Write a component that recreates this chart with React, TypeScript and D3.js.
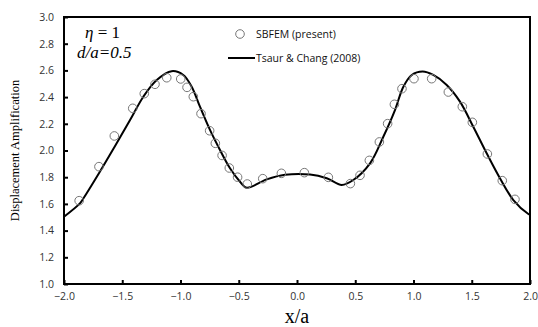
import { useEffect, useRef } from 'react';
import * as d3 from 'd3';

// SBFEM (present) - open circles
const sbfemX = [
  -1.87, -1.7, -1.568, -1.41, -1.311, -1.219, -1.118, -0.998, -0.944, -0.89, -0.824, -0.75, -0.701,
  -0.643, -0.581, -0.51, -0.427, -0.294, -0.134, 0.063, 0.269, 0.458, 0.541, 0.621, 0.707, 0.778,
  0.836, 0.901, 1.004, 1.156, 1.299, 1.419, 1.505, 1.634, 1.762, 1.871,
];
const sbfemY = [
  1.624, 1.879, 2.109, 2.316, 2.426, 2.496, 2.545, 2.536, 2.473, 2.403, 2.276, 2.148, 2.054, 1.963,
  1.869, 1.8, 1.749, 1.789, 1.829, 1.834, 1.799, 1.752, 1.814, 1.926, 2.064, 2.201, 2.346, 2.463,
  2.538, 2.538, 2.438, 2.328, 2.211, 1.974, 1.774, 1.634,
];

// Tsaur & Chang (2008) - solid line
const tsaurX = [
  -2.0, -1.863, -1.834, -1.7, -1.568, -1.433, -1.319, -1.204, -1.076, -0.976, -0.904, -0.833, -0.747,
  -0.661, -0.575, -0.489, -0.432, -0.26, -0.103, 0.112, 0.255, 0.384, 0.483, 0.627, 0.741, 0.841,
  0.913, 0.985, 1.079, 1.17, 1.285, 1.399, 1.513, 1.628, 1.742, 1.857, 1.986, 2.0,
];
const tsaurY = [
  1.504, 1.604, 1.64, 1.829, 2.024, 2.228, 2.403, 2.528, 2.594, 2.566, 2.478, 2.328, 2.154, 2.004,
  1.867, 1.766, 1.721, 1.784, 1.818, 1.82, 1.792, 1.742, 1.779, 1.904, 2.103, 2.303, 2.478, 2.566,
  2.592, 2.566, 2.491, 2.366, 2.178, 1.979, 1.792, 1.629, 1.524, 1.518,
];

const xTicks = [-2.0, -1.5, -1.0, -0.5, 0.0, 0.5, 1.0, 1.5, 2.0];
const yTicks = [1.0, 1.2, 1.4, 1.6, 1.8, 2.0, 2.2, 2.4, 2.6, 2.8, 3.0];

export default function App() {
  const svgRef = useRef<SVGSVGElement>(null);

  useEffect(() => {
    if (!svgRef.current) return;
    const width = 538;
    const height = 327;
    const margin = { top: 17, right: 8, bottom: 43, left: 64 };
    const innerW = width - margin.left - margin.right;
    const innerH = height - margin.top - margin.bottom;

    const svg = d3.select(svgRef.current);
    svg.selectAll('*').remove();

    const g = svg.append('g').attr('transform', `translate(${margin.left},${margin.top})`);

    const x = d3.scaleLinear().domain([-2, 2]).range([0, innerW]);
    const y = d3.scaleLinear().domain([1, 3]).range([innerH, 0]);

    const tickFont = "'Open Sans', 'DejaVu Sans', sans-serif";

    // X axis
    const xAxis = d3
      .axisBottom(x)
      .tickValues(xTicks)
      .tickSize(-4)
      .tickPadding(9)
      .tickFormat((d) => d3.format('.1f')(d as number));
    const gx = g.append('g').attr('transform', `translate(0,${innerH})`).call(xAxis);
    gx.select('.domain').remove();
    gx.selectAll('line').attr('stroke', '#000').attr('stroke-width', 2);
    gx.selectAll('text')
      .attr('font-size', 10.5)
      .attr('font-family', tickFont)
      .attr('fill', '#333');

    // Y axis
    const yAxis = d3
      .axisLeft(y)
      .tickValues(yTicks)
      .tickSize(-4)
      .tickPadding(10)
      .tickFormat((d) => d3.format('.1f')(d as number));
    const gy = g.append('g').call(yAxis);
    gy.select('.domain').remove();
    gy.selectAll('line').attr('stroke', '#000').attr('stroke-width', 2);
    gy.selectAll('text')
      .attr('font-size', 10.5)
      .attr('font-family', tickFont)
      .attr('fill', '#333');

    // Frame
    g.append('rect')
      .attr('x', 0)
      .attr('y', 0)
      .attr('width', innerW)
      .attr('height', innerH)
      .attr('fill', 'none')
      .attr('stroke', '#000')
      .attr('stroke-width', 2);

    // Tsaur & Chang curve
    const pts = tsaurX.map((v, i) => [v, tsaurY[i]] as [number, number]);
    const line = d3
      .line<[number, number]>()
      .x((d) => x(d[0]))
      .y((d) => y(d[1]))
      .curve(d3.curveCatmullRom.alpha(0.5));
    g.append('path')
      .attr('d', line(pts))
      .attr('fill', 'none')
      .attr('stroke', '#000')
      .attr('stroke-width', 2);

    // SBFEM circles
    sbfemX.forEach((v, i) => {
      g.append('circle')
        .attr('cx', x(v))
        .attr('cy', y(sbfemY[i]))
        .attr('r', 4.3)
        .attr('fill', 'none')
        .attr('stroke', '#777')
        .attr('stroke-width', 1);
    });

    // Annotation
    const ann = g.append('text')
      .attr('x', 21)
      .attr('y', 21)
      .attr('font-family', "'Liberation Serif', 'DejaVu Serif', serif")
      .attr('font-size', 17);
    ann.append('tspan').attr('font-style', 'italic').text('η');
    ann.append('tspan').text(' = 1');
    g.append('text')
      .attr('x', 13)
      .attr('y', 41)
      .attr('font-family', "'Liberation Serif', 'DejaVu Serif', serif")
      .attr('font-style', 'italic')
      .attr('font-size', 17)
      .text('d/a=0.5');

    // Legend
    const legFont = "'Open Sans', 'DejaVu Sans', sans-serif";
    g.append('circle')
      .attr('cx', 240 - margin.left)
      .attr('cy', 34 - margin.top)
      .attr('r', 4.3)
      .attr('fill', 'none')
      .attr('stroke', '#777')
      .attr('stroke-width', 1);
    g.append('text')
      .attr('x', 256 - margin.left)
      .attr('y', 37.5 - margin.top)
      .attr('font-family', legFont)
      .attr('font-size', 10.5)
      .attr('fill', '#111')
      .text('SBFEM (present)');
    g.append('line')
      .attr('x1', 228 - margin.left)
      .attr('x2', 255 - margin.left)
      .attr('y1', 58 - margin.top)
      .attr('y2', 58 - margin.top)
      .attr('stroke', '#000')
      .attr('stroke-width', 2);
    g.append('text')
      .attr('x', 256 - margin.left)
      .attr('y', 61.5 - margin.top)
      .attr('font-family', legFont)
      .attr('font-size', 10.5)
      .attr('fill', '#111')
      .text('Tsaur & Chang (2008)');

    // Axis titles
    svg.append('text')
      .attr('x', margin.left + innerW / 2)
      .attr('y', 323)
      .attr('text-anchor', 'middle')
      .attr('font-family', "'Liberation Serif', 'DejaVu Serif', serif")
      .attr('font-size', 20)
      .text('x/a');
    svg.append('text')
      .attr('transform', `translate(19,${margin.top + innerH / 2}) rotate(-90)`)
      .attr('text-anchor', 'middle')
      .attr('font-family', "'Liberation Serif', 'DejaVu Serif', serif")
      .attr('font-size', 12.5)
      .text('Displacement Amplification');
  }, []);

  return (
    <svg
      ref={svgRef}
      width={538}
      height={327}
      style={{ position: 'absolute', left: 0, top: 0, background: '#fff' }}
    />
  );
}
